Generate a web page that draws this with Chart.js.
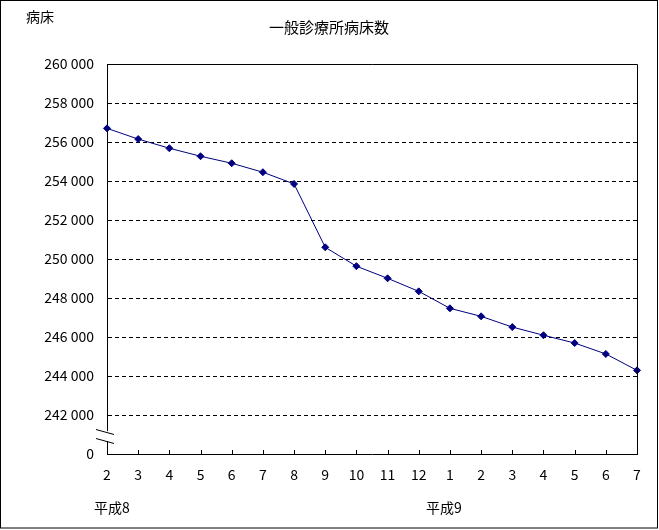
<!DOCTYPE html>
<html>
<head>
<meta charset="utf-8">
<script src="https://cdn.jsdelivr.net/npm/chart.js@4"></script>
<style>
  html, body { margin: 0; padding: 0; background: #fff; }
  #wrap { width: 659px; height: 530px; }
</style>
</head>
<body>
<div id="wrap"><canvas id="bedChart" width="659" height="530"></canvas></div>
<script>
// month labels (平成8年2月 .. 平成9年7月)
var months = ['2', '3', '4', '5', '6', '7', '8', '9', '10', '11', '12', '1', '2', '3', '4', '5', '6', '7'];
// 一般診療所病床数
var beds = [256700, 256150, 255680, 255270, 254910, 254450, 253850, 250600, 249630, 249010,
            248340, 247470, 247060, 246510, 246090, 245690, 245130, 244290];
var eraLabels = [
    { text: '平成8', index: 0 },
    { text: '平成9', index: 11 }
];
var chartTitle = '一般診療所病床数';
var unitLabel = '病床';

var yMin = 240000;
var yMax = 260000;
var font = '"Noto Sans CJK JP", "DejaVu Sans", sans-serif';

// Format 256000 as "256 000", and the broken-axis bottom as "0"
function formatTick(v) {
    if (v === yMin) return '0';
    var thousands = Math.floor(v / 1000);
    var rest = String(v % 1000).padStart(3, '0');
    return thousands + ' ' + rest;
}

// Extra drawing: titles, box, inner tick marks, axis break
var decorations = {
    id: 'decorations',
    beforeDraw: function(chart) {
        var ctx = chart.ctx;
        ctx.save();
        ctx.fillStyle = '#fff';
        ctx.fillRect(0, 0, chart.width, chart.height);
        ctx.restore();
    },
    afterDraw: function(chart) {
        var ctx = chart.ctx;
        var area = chart.chartArea;
        var xScale = chart.scales.x;
        ctx.save();

        // plot box
        ctx.strokeStyle = '#000';
        ctx.lineWidth = 1;
        ctx.beginPath();
        ctx.moveTo(area.left, area.top + 0.5);
        ctx.lineTo(area.right + 0.5, area.top + 0.5);
        ctx.lineTo(area.right + 0.5, area.bottom);
        ctx.stroke();

        // tick marks pointing inside
        ctx.beginPath();
        for (var i = 0; i < months.length; i++) {
            var px = Math.round(xScale.getPixelForTick(i)) + 0.5;
            ctx.moveTo(px, area.bottom);
            ctx.lineTo(px, area.bottom - 4);
        }
        ctx.stroke();

        // axis break
        ctx.fillStyle = '#fff';
        ctx.beginPath();
        ctx.moveTo(area.left - 3, 430);
        ctx.lineTo(area.left + 3, 432);
        ctx.lineTo(area.left + 3, 442);
        ctx.lineTo(area.left - 3, 440);
        ctx.closePath();
        ctx.fill();
        ctx.beginPath();
        ctx.moveTo(area.left - 11, 429.5);
        ctx.lineTo(area.left + 7, 434.5);
        ctx.moveTo(area.left - 11, 438.5);
        ctx.lineTo(area.left + 7, 443.5);
        ctx.stroke();

        // texts
        ctx.fillStyle = '#000';
        ctx.textBaseline = 'middle';
        ctx.font = '14px ' + font;
        ctx.textAlign = 'left';
        ctx.fillText(unitLabel, 26, 17);
        ctx.font = '15px ' + font;
        ctx.textAlign = 'center';
        ctx.fillText(chartTitle, 329, 27);
        ctx.font = '14px ' + font;
        eraLabels.forEach(function(e, k) {
            var px = xScale.getPixelForTick(e.index);
            // first era label sits right of its tick, second one left of it
            ctx.fillText(e.text, k === 0 ? px + 5 : px - 6, 508);
        });

        // outer frame
        ctx.strokeRect(0.5, 0.5, chart.width - 2, chart.height - 2.5);
        ctx.restore();
    }
};

var ctx = document.getElementById('bedChart').getContext('2d');
var bedChart = new Chart(ctx, {
    type: 'line',
    data: {
        labels: months,
        datasets: [{
            label: chartTitle,
            data: beds,
            borderColor: '#000080',
            backgroundColor: '#000080',
            borderWidth: 1,
            pointStyle: 'rectRot',
            pointRadius: 3.5,
            pointHoverRadius: 3.5,
            tension: 0
        }]
    },
    options: {
        responsive: false,
        animation: false,
        layout: {
            padding: { left: 0, right: 22, top: 64, bottom: 0 }
        },
        plugins: {
            legend: { display: false },
            title: { display: false },
            tooltip: { enabled: false }
        },
        scales: {
            x: {
                offset: false,
                grid: { display: false, drawTicks: false },
                border: { display: true, color: '#000', width: 1 },
                ticks: {
                    color: '#000',
                    padding: 12,
                    maxRotation: 0,
                    autoSkip: false,
                    font: { family: font, size: 14 }
                },
                afterFit: function(scale) { scale.height = 76; }
            },
            y: {
                min: yMin,
                max: yMax,
                grid: {
                    drawTicks: false,
                    color: function(c) {
                        var v = c.tick && c.tick.value;
                        return (v === yMin || v === yMax) ? 'rgba(0,0,0,0)' : '#000';
                    },
                    lineWidth: 1
                },
                border: { display: true, color: '#000', width: 1, dash: [4, 3] },
                ticks: {
                    stepSize: 2000,
                    color: '#000',
                    padding: 13,
                    font: { family: font, size: 14 },
                    callback: function(v) { return formatTick(v); }
                },
                afterFit: function(scale) { scale.width = 107; }
            }
        }
    },
    plugins: [decorations]
});
</script>
</body>
</html>
